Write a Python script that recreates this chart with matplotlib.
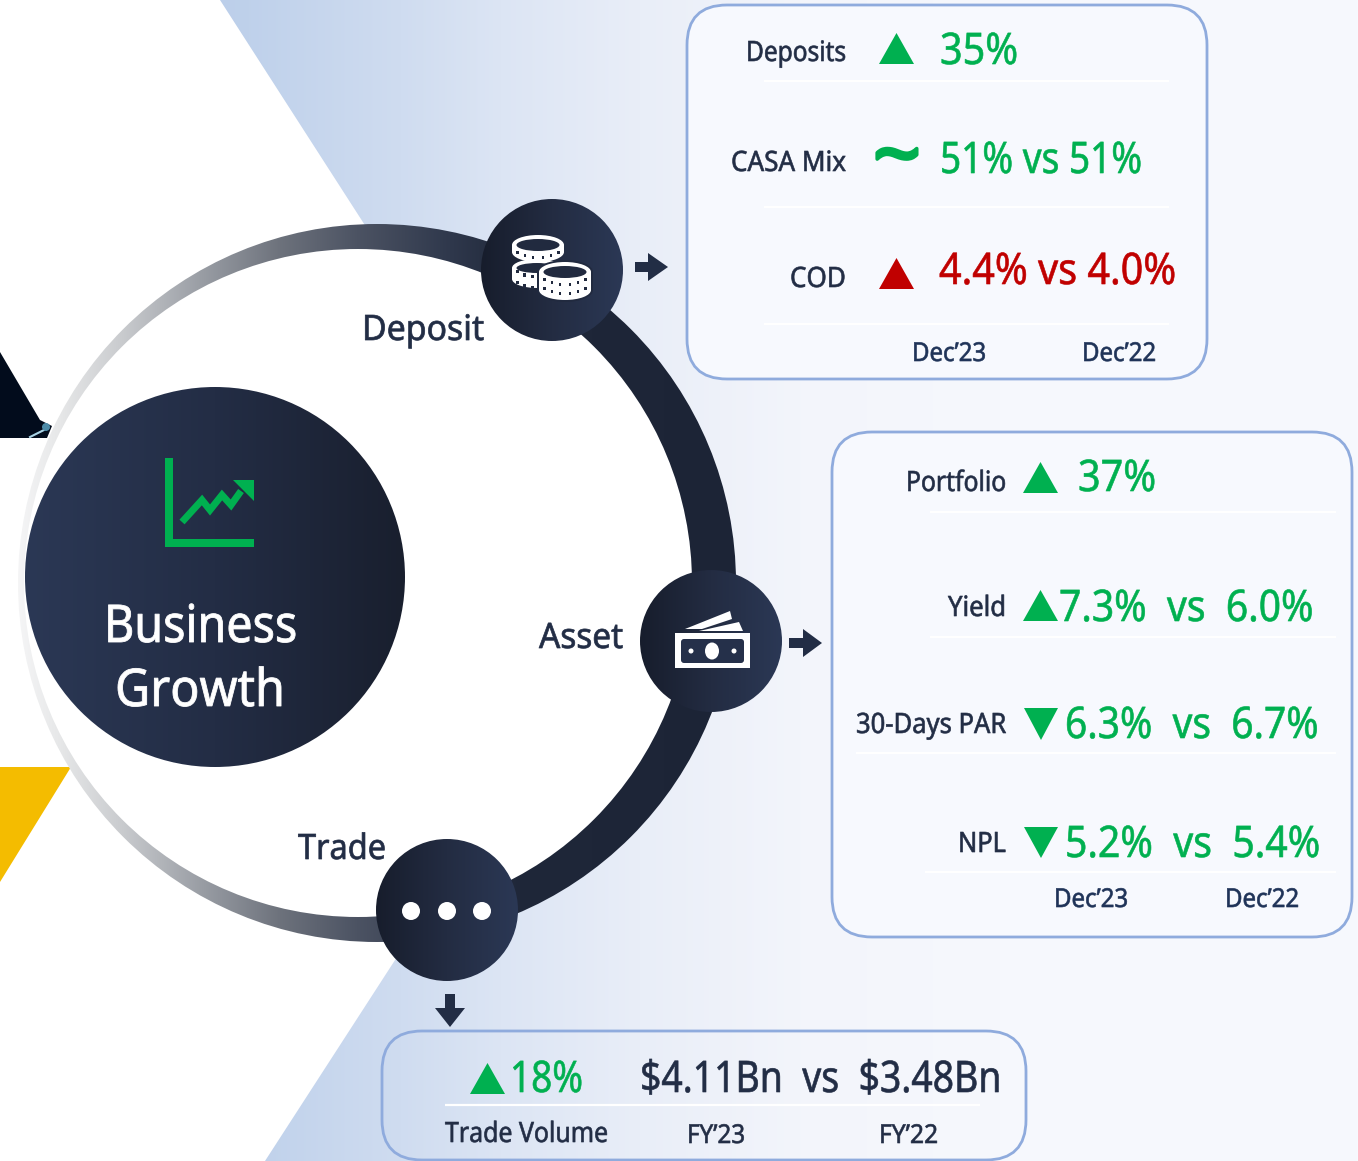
import numpy as np
import matplotlib
matplotlib.use("Agg")
import matplotlib.pyplot as plt
from matplotlib.patches import Circle, Polygon, FancyBboxPatch, Ellipse, Rectangle
from matplotlib.patheffects import AbstractPathEffect
from matplotlib.transforms import Affine2D
from matplotlib.colors import to_rgb

# ---- content ----
title_lines = ["Business", "Growth"]
pillars = ["Deposit", "Asset", "Trade"]
deposit_labels = ["Deposits", "CASA Mix", "COD"]
deposit_values = ["35%", "51% vs 51%", "4.4% vs 4.0%"]
asset_labels = ["Portfolio", "Yield", "30-Days PAR", "NPL"]
asset_2023 = ["37%", "7.3%", "6.3%", "5.2%"]
asset_2022 = [None, "6.0%", "6.7%", "5.4%"]
period_dec = ["Dec\u201923", "Dec\u201922"]
trade_growth = "18%"
trade_values = ["$4.11Bn", "$3.48Bn"]
trade_label = "Trade Volume"
period_fy = ["FY\u201923", "FY\u201922"]

GREEN, RED, DARK, NAVY = "#00b050", "#c00000", "#222d45", "#1f3358"
EDGE, FILL = "#8fabdd", "#f7f9fe"
FONT = "Noto Sans"

fig = plt.figure(figsize=(13.58, 11.61), dpi=100, facecolor="white")
ax = fig.add_axes([0, 0, 1, 1])
ax.set_xlim(0, 1358); ax.set_ylim(1161, 0); ax.axis("off"); ax.set_autoscale_on(False)
renderer = fig.canvas.get_renderer()


class Squeeze(AbstractPathEffect):
    """Narrow a text horizontally about its left edge and embolden it slightly (it stays real text)."""

    def __init__(self, sx, x0, stroke):
        super().__init__()
        self.sx, self.x0, self.stroke = sx, x0, stroke

    def draw_path(self, renderer, gc, tpath, affine, rgbFace=None):
        aff = affine + Affine2D().translate(-self.x0, 0).scale(self.sx, 1).translate(self.x0, 0)
        gc0 = renderer.new_gc()
        gc0.copy_properties(gc)
        gc0.set_foreground(rgbFace)
        gc0.set_linewidth(self.stroke)
        renderer.draw_path(gc0, tpath, aff, rgbFace)
        gc0.restore()


def T(x0, x1, y, s, px, color=DARK, w="normal", z=20, stroke=0.45):
    t = ax.text(x0, y, s, fontsize=px * 0.72, color=color, ha="left", va="baseline",
                family=FONT, fontweight=w, zorder=z, parse_math=False)
    width = t.get_window_extent(renderer).width
    t.set_path_effects([Squeeze((x1 - x0) / width, ax.transData.transform((x0, y))[0], stroke)])
    return t


def grad(x0, x1, stops, clip, z):
    xs = np.linspace(x0, x1, 600)
    px, cols = zip(*stops)
    rgb = np.array([to_rgb(c) for c in cols])
    arr = np.stack([np.interp(xs, px, rgb[:, i]) for i in range(3)], axis=1)[None, :, :]
    clip.set_transform(ax.transData)
    im = ax.imshow(arr, extent=(x0, x1, 1161, 0), aspect="auto", zorder=z, interpolation="bilinear")
    im.set_clip_path(clip)
    return im


def tri(x0, x1, y0, y1, color, up=True, z=15):
    pts = [(x0, y1), (x1, y1), ((x0 + x1) / 2, y0)] if up else [(x0, y0), (x1, y0), ((x0 + x1) / 2, y1)]
    ax.add_patch(Polygon(pts, closed=True, fc=color, ec="none", zorder=z))


def sep(x0, x1, y):
    ax.plot([x0, x1], [y, y], color="white", lw=1.6, zorder=12, solid_capstyle="butt")


def box(x0, y0, x1, y1, r, fc):
    ax.add_patch(FancyBboxPatch((x0, y0), x1 - x0, y1 - y0, boxstyle=f"round,pad=0,rounding_size={r}",
                                fc=fc, ec=EDGE, lw=2, zorder=10))


def arrow_r(x0, x1, x2, y):
    ax.add_patch(Polygon([(x0, y - 5), (x1, y - 5), (x1, y - 14), (x2, y), (x1, y + 14), (x1, y + 5), (x0, y + 5)],
                         fc=DARK, ec="none", zorder=9))


# ---- background ----
grad(220, 1358, [(220, "#bccfea"), (400, "#cfdcf0"), (500, "#dce5f4"), (640, "#e9eef8"),
                 (800, "#f3f5fb"), (1000, "#f6f8fd"), (1358, "#f7f9fe")],
     Polygon([(220, 0), (1358, 0), (1358, 1161), (265, 1161), (617, 617)], closed=True), 1)
ax.add_patch(Polygon([(0, 767), (71, 767), (0, 882)], fc="#f4bc00", ec="none", zorder=2))
ax.add_patch(Polygon([(0, 352), (40, 420), (52, 426), (47, 438), (0, 438)], fc="#020c1c", ec="none", zorder=2))
ax.plot([30, 48], [437, 428], color="#a9d3e6", lw=1.5, zorder=2)
ax.add_patch(Circle((46, 427), 4, fc="#4d8ba8", ec="none", zorder=2))

# ---- ring ----
grad(18, 736, [(18, "#f5f5f6"), (60, "#e6e7e8"), (120, "#cacccf"), (200, "#9a9ea5"), (280, "#6d727c"),
               (357, "#4c5363"), (450, "#2f384c"), (520, "#1f2739"), (736, "#1c2436")],
     Circle((377, 583), 359), 3)
ax.add_patch(Circle((358, 583), 334, fc="white", ec="none", zorder=4))

# ---- big disc ----
grad(25, 405, [(25, "#2b3855"), (215, "#232d45"), (405, "#191f2e")], Circle((215, 577), 190), 5)
T(104, 297, 642, title_lines[0], 52, "white", z=8, stroke=0.6)
T(115, 285, 706, title_lines[1], 52, "white", z=8, stroke=0.6)
ax.add_patch(Polygon([(165, 458), (173, 458), (173, 539), (254, 539), (254, 547), (165, 547)], fc=GREEN, ec="none", zorder=7))
zx = [182, 202, 210, 222, 231, 241]
zy = [522, 500, 510, 495, 505, 491]
ax.plot(zx, zy, color=GREEN, lw=5, zorder=7, solid_joinstyle="miter", solid_capstyle="butt")
ax.add_patch(Polygon([(233, 480), (254, 480), (254, 501)], fc=GREEN, ec="none", zorder=7))

# ---- node circles ----
node_stops = lambda c: [(c - 71, "#171d2c"), (c, "#232c42"), (c + 71, "#2b3855")]
for cx, cy in [(552, 270), (711, 641), (447, 910)]:
    grad(cx - 71, cx + 71, node_stops(cx), Circle((cx, cy), 71), 6)
T(362, 484, 340, pillars[0], 35, stroke=0.5)
T(539, 623, 648, pillars[1], 35, stroke=0.5)
T(298, 386, 859, pillars[2], 35, stroke=0.5)


# coins icon
def coin(cx, cy, rx, ry, h, rows, z, halo=0):
    ink = "#212a3f"
    if halo:
        ax.add_patch(Rectangle((cx - rx - halo, cy), 2 * rx + 2 * halo, h, fc=ink, ec="none", zorder=z - .05))
        ax.add_patch(Ellipse((cx, cy), 2 * rx + 2 * halo, 2 * ry + 2 * halo, fc=ink, ec="none", zorder=z - .05))
        ax.add_patch(Ellipse((cx, cy + h), 2 * rx + 2 * halo, 2 * ry + 2 * halo, fc=ink, ec="none", zorder=z - .05))
    ax.add_patch(Rectangle((cx - rx, cy), 2 * rx, h, fc="white", ec="none", zorder=z))
    ax.add_patch(Ellipse((cx, cy + h), 2 * rx, 2 * ry, fc="white", ec="none", zorder=z))
    ax.add_patch(Ellipse((cx, cy), 2 * rx, 2 * ry, fc="white", ec="none", zorder=z))
    ax.add_patch(Ellipse((cx, cy), 2 * rx - 9, 2 * ry - 8, fc=ink, ec="none", zorder=z + .1))
    for off in rows:
        for a in np.radians([28, 55, 78, 102, 125, 152]):
            ax.add_patch(Rectangle((cx + (rx - 3) * np.cos(a) - 1.2, cy + off + ry * np.sin(a) - 2), 2.4, 3.2,
                                   fc=ink, ec="none", zorder=z + .1))


coin(537, 268, 25, 9, 11, [0, 11], 7)
coin(538, 245, 26, 10, 7, [3], 7.3)
coin(565, 272, 26, 10, 18, [3, 12], 7.6, halo=2)

# money icon
ax.add_patch(Rectangle((675, 633), 75, 35, fc="white", ec="none", zorder=7))
ax.add_patch(FancyBboxPatch((681, 639), 63, 24, boxstyle="round,pad=0,rounding_size=3", fc="#25304a", ec="none", zorder=7.1))
ax.add_patch(Ellipse((712, 651), 14, 17, fc="white", ec="none", zorder=7.2))
for dx in (691, 734):
    ax.add_patch(Circle((dx, 651), 2.5, fc="white", ec="none", zorder=7.2))
ax.add_patch(Polygon([(685, 629), (730, 611), (732, 619), (702, 629)], fc="white", ec="none", zorder=7))
ax.add_patch(Polygon([(699, 631), (739, 622), (743, 631)], fc="white", ec="none", zorder=7))

# dots icon
for dx in (411, 447, 482):
    ax.add_patch(Circle((dx, 911), 9, fc="white", ec="none", zorder=7))

# arrows
arrow_r(635, 648, 668, 267)
arrow_r(789, 803, 822, 643)
ax.add_patch(Polygon([(445, 994), (455, 994), (455, 1008), (465, 1008), (450, 1027), (435, 1008), (445, 1008)],
                     fc=DARK, ec="none", zorder=9))

# ---- box 1 ----
box(687, 5, 1207, 379, 40, FILL)
for y in (81, 207, 324):
    sep(764, 1169, y)
T(746, 846, 61, deposit_labels[0], 28)
T(731, 846, 171, deposit_labels[1], 28)
T(790, 846, 287, deposit_labels[2], 28)
tri(879, 914, 33, 64, GREEN)
T(873, 921, 182, "~", 80, GREEN, w="bold", stroke=2.6)
tri(879, 914, 258, 289, RED)
T(940, 1018, 64, deposit_values[0], 43.5, GREEN)
T(940, 1142, 173, deposit_values[1], 43.5, GREEN)
T(939, 1176, 284, deposit_values[2], 43.5, RED)
T(912, 986, 361, period_dec[0], 26, NAVY)
T(1082, 1156, 361, period_dec[1], 26, NAVY)

# ---- box 2 ----
box(832, 432, 1352, 937, 40, FILL)
sep(930, 1336, 512); sep(930, 1336, 637); sep(856, 1336, 753); sep(925, 1336, 872)
T(906, 1006, 491, asset_labels[0], 28)
T(948, 1006, 616, asset_labels[1], 28)
T(856, 1006, 733, asset_labels[2], 28)
T(958, 1006, 852, asset_labels[3], 28)
tri(1023, 1058, 462, 493, GREEN)
tri(1023, 1058, 590, 621, GREEN)
tri(1024, 1058, 708, 740, GREEN, up=False)
tri(1024, 1058, 827, 858, GREEN, up=False)
T(1078, 1156, 491, asset_2023[0], 43.5, GREEN)
for y, xa, xb, a, b in zip((621, 738, 857), (1059, 1065, 1065), (1313, 1318, 1320),
                           asset_2023[1:], asset_2022[1:]):
    T(xa, xb, y, f"{a}  vs  {b}", 43.5, GREEN)
T(1054, 1128, 907, period_dec[0], 26, NAVY)
T(1225, 1299, 907, period_dec[1], 26, NAVY)

# ---- box 3 ----
box(382, 1031, 1026, 1160, 40, "none")
sep(445, 980, 1105)
tri(470, 505, 1063, 1094, GREEN)
T(510, 583, 1092, trade_growth, 43.5, GREEN)
T(640, 1001, 1092, f"{trade_values[0]}  vs  {trade_values[1]}", 43.5)
T(445, 608, 1142, trade_label, 28)
T(687, 745, 1143, period_fy[0], 26)
T(879, 938, 1143, period_fy[1], 26)

fig.savefig("out.png", dpi=100, facecolor="white")
